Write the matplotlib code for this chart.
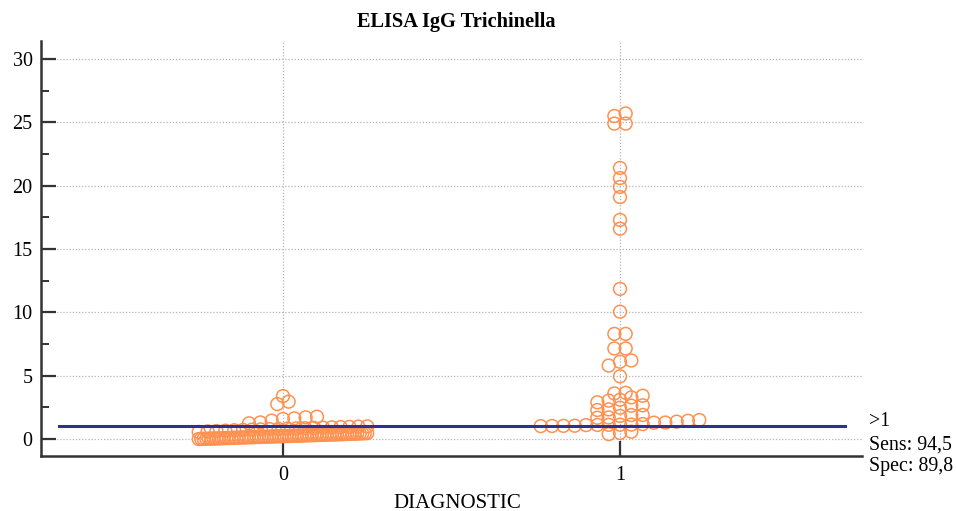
import numpy as np
import matplotlib
matplotlib.use("Agg")
import matplotlib.pyplot as plt
from matplotlib.ticker import MultipleLocator
import matplotlib.transforms as mtransforms

# values
groups = [0, 1]
diag0 = [
    0.00, 0.01, 0.01, 0.02, 0.03, 0.03, 0.04, 0.05, 0.05, 0.06,
    0.07, 0.08, 0.08, 0.09, 0.10, 0.10, 0.11, 0.12, 0.12, 0.13,
    0.14, 0.14, 0.15, 0.16, 0.16, 0.17, 0.18, 0.18, 0.19, 0.20,
    0.20, 0.21, 0.22, 0.22, 0.23, 0.24, 0.24, 0.25, 0.26, 0.26,
    0.27, 0.28, 0.28, 0.29, 0.30, 0.30, 0.31, 0.32, 0.32, 0.33,
    0.34, 0.34, 0.35, 0.36, 0.36, 0.37, 0.38, 0.38, 0.39, 0.40,
    0.41, 0.42, 0.42, 0.43, 0.44, 0.45, 0.46, 0.47,
    0.56, 0.60, 0.63, 0.66, 0.69, 0.72, 0.74, 0.76, 0.78, 0.80,
    0.82, 0.84, 0.86, 0.88, 0.90, 0.92, 0.94, 0.96, 0.98, 1.00,
    1.24, 1.31, 1.45, 1.58, 1.63, 1.71, 1.76,
    2.76, 2.95, 3.39,
]
diag1 = [
    0.39, 0.48, 0.58,
    1.02, 1.03, 1.04, 1.05, 1.10, 1.11, 1.12, 1.13, 1.14, 1.18, 1.29, 1.30, 1.37, 1.44, 1.50,
    1.68, 1.70, 1.82, 1.89, 1.90,
    2.29, 2.34, 2.47, 2.63, 2.66,
    2.90, 3.03, 3.10, 3.29, 3.42,
    3.60, 3.65,
    4.95, 5.80, 6.10, 6.20, 7.15, 7.15, 8.30, 8.30, 10.05, 11.85,
    16.60, 17.30, 19.10, 19.90, 20.60, 21.40, 24.90, 24.90, 25.50, 25.70,
]
cutoff = 1
sens_txt = "Sens: 94,5"
spec_txt = "Spec: 89,8"

ORANGE = '#FF9150'
NAVY = '#2E3192'
DARK = '#333333'
SERIF = ['Liberation Serif', 'DejaVu Serif']


def dot_positions(vals, center, rowh=0.55, dx=0.0336, maxspan=0.50):
    """ MedCalc-like dot plot: values close together go in one row, spread sideways. """
    v = np.sort(np.asarray(vals, dtype=float))
    xs, ys = [], []
    i = 0
    while i < len(v):
        j = i
        while j < len(v) and v[j] <= v[i] + rowh:
            j += 1
        row = v[i:j]
        n = len(row)
        step = dx if (n - 1) * dx <= maxspan else maxspan / (n - 1)
        xs.extend(center + (np.arange(n) - (n - 1) / 2) * step)
        ys.extend(row)
        i = j
    return np.array(xs), np.array(ys)


plt.rcParams['font.family'] = SERIF
fig = plt.figure(figsize=(9.56, 5.11), dpi=100)
ax = fig.add_axes([41/956, 55/511, 821/956, 415/511])

for g, vals in zip(groups, [diag0, diag1]):
    x, y = dot_positions(vals, g)
    ax.scatter(x, y, s=85, facecolors='none', edgecolors=ORANGE, linewidths=1.1, zorder=3)

xmin, xmax = -0.718, 1.718
ax.set_xlim(xmin, xmax)
ax.set_ylim(-1.34, 31.42)
ax.plot([xmin + 0.053, xmax - 0.05], [cutoff, cutoff], color=NAVY, lw=2.2, zorder=4)

ax.set_xticks(groups)
ax.yaxis.set_major_locator(MultipleLocator(5))
ax.yaxis.set_minor_locator(MultipleLocator(2.5))
ax.tick_params(axis='both', which='major', direction='in', length=11, width=1.6,
               color=DARK, labelsize=14.5, labelcolor='black')
ax.tick_params(axis='y', which='major', pad=6)
ax.tick_params(axis='x', which='major', pad=7)
ax.tick_params(axis='y', which='minor', direction='in', length=6, width=1.4, color=DARK)
ax.grid(True, which='major', linestyle=(0, (1, 1.5)), color='#b5b5b5', lw=0.9)
ax.set_axisbelow(True)

for s in ['top', 'right']:
    ax.spines[s].set_visible(False)
for s in ['left', 'bottom']:
    ax.spines[s].set_color(DARK)
    ax.spines[s].set_linewidth(1.8)

trans = mtransforms.blended_transform_factory(ax.transAxes, ax.transData)
tstyle = dict(xycoords=trans, textcoords='offset points', ha='left', va='center',
              fontsize=14.3, annotation_clip=False)
ax.annotate('>1', xy=(1, cutoff), xytext=(5, 3.6), **tstyle)
ax.annotate(sens_txt, xy=(1, cutoff), xytext=(5, -13.7), **tstyle)
ax.annotate(spec_txt, xy=(1, cutoff), xytext=(5, -28.8), **tstyle)

fig.text(456/956, 1 - 22/511, 'ELISA IgG Trichinella', ha='center', va='center',
         fontsize=14.7, fontweight='bold')
fig.text(457/956, 1 - 503/511, 'DIAGNOSTIC', ha='center', va='center', fontsize=15)

fig.savefig('out.png', dpi=100)
